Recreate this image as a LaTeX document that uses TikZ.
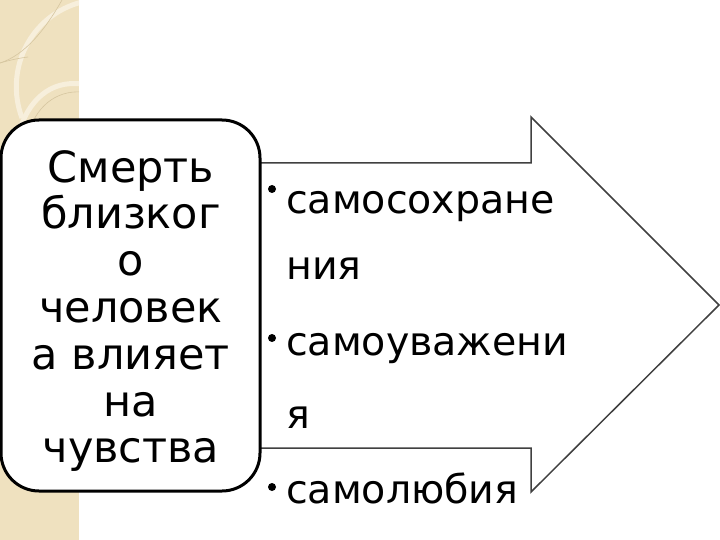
\documentclass[tikz,border=0pt]{standalone}
\usepackage{fontspec}
\setmainfont{DejaVu Sans}
\definecolor{beige}{RGB}{239,225,191}
\definecolor{beigelight}{RGB}{247,239,220}
\definecolor{beigedark}{RGB}{214,198,160}
\definecolor{arrowline}{RGB}{64,64,64}
\tikzset{
  srcbox/.style={draw=black, line width=3pt, fill=white, rounded corners=38pt,
    minimum width=259pt, minimum height=371pt, inner sep=0pt},
  srctext/.style={inner sep=0pt, align=center, font=\fontsize{43}{46.8}\selectfont},
  itemtext/.style={inner sep=0pt, align=left, anchor=base west, font=\fontsize{39.5}{70}\selectfont},
  itemdot/.style={circle, fill=black, inner sep=0pt, minimum size=8pt},
  bigarrow/.style={draw=arrowline, line width=1.5pt, fill=white, line join=miter},
}
\begin{document}
\begin{tikzpicture}[x=1pt,y=-1pt]
\useasboundingbox (0,0) rectangle (720,540);
% decorative strip
\fill[beige] (0,0) rectangle (79,540);
\begin{scope}
\clip (0,0) rectangle (79,540);
\draw[beigelight, line width=5pt] (82,2) .. controls (30,15) and (4,70) .. (22,118);
\draw[beigedark, line width=0.6pt] (62,0) .. controls (45,30) and (25,55) .. (0,63);
\draw[beigedark, line width=0.6pt] (0,63) .. controls (10,60) and (20,58) .. (28,57);
\draw[beigelight, line width=5pt] (82,84) .. controls (50,80) and (28,100) .. (18,135);
\draw[beigedark, line width=0.6pt] (82,92) .. controls (55,90) and (35,108) .. (28,135);
\end{scope}
% arrow
\draw[bigarrow] (200,163) coordinate (abl) -- (531,163) -- (531,117) -- (719,305) coordinate (tip)
  -- (531,492) -- (531,448) -- (200,448) -- cycle;
% source box
\node[srcbox] (src) at (130.5,305.5) {};
\node[srctext, anchor=north] (srctxt) at (131,150)
  {Смерть\\близког\\о\\человек\\а влияет\\на\\чувства};
% items (base anchor = baseline of the last line)
\node[itemdot] (d1) at (272,189) {};
\node[itemtext, font=\fontsize{39.5}{66}\selectfont] (i1) at (286,279) {самосохране\\ния};
\node[itemdot] (d2) at (272,338) {};
\node[itemtext, font=\fontsize{39.5}{73}\selectfont] (i2) at (286,428) {самоуважени\\я};
\node[itemdot] (d3) at (272,487) {};
\node[itemtext] (i3) at (286,503) {самолюбия};
\end{tikzpicture}
\end{document}
